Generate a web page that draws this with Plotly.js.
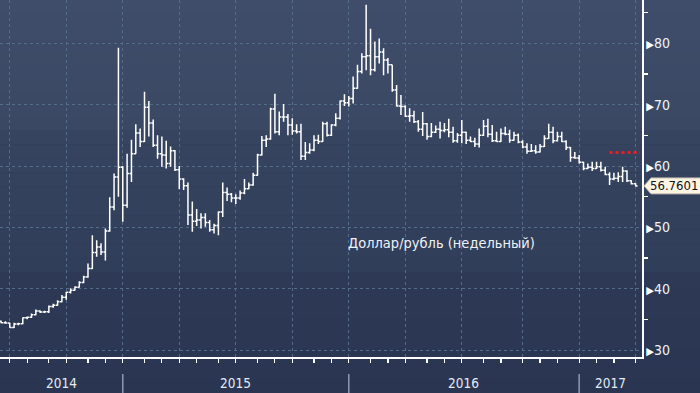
<!DOCTYPE html>
<html><head><meta charset="utf-8">
<script src="https://cdn.plot.ly/plotly-3.0.1.min.js"></script>
<style>html,body{margin:0;padding:0;background:#2c3854;overflow:hidden}</style>
</head><body><div id="chart" style="width:700px;height:393px"></div>
<script>
// Weekly bars (week ending Friday), USD/RUB
const weeks = [
 '2014-06-13','2014-06-20','2014-06-27','2014-07-04','2014-07-11','2014-07-18','2014-07-25','2014-08-01','2014-08-08','2014-08-15','2014-08-22','2014-08-29','2014-09-05','2014-09-12','2014-09-19','2014-09-26','2014-10-03','2014-10-10','2014-10-17','2014-10-24','2014-10-31','2014-11-07','2014-11-14','2014-11-21','2014-11-28','2014-12-05','2014-12-12','2014-12-19','2014-12-26',
 '2015-01-02','2015-01-09','2015-01-16','2015-01-23','2015-01-30','2015-02-06','2015-02-13','2015-02-20','2015-02-27','2015-03-06','2015-03-13','2015-03-20','2015-03-27','2015-04-03','2015-04-10','2015-04-17','2015-04-24','2015-05-01','2015-05-08','2015-05-15','2015-05-22','2015-05-29','2015-06-05','2015-06-12','2015-06-19','2015-06-26','2015-07-03','2015-07-10','2015-07-17','2015-07-24','2015-07-31','2015-08-07','2015-08-14','2015-08-21','2015-08-28','2015-09-04','2015-09-11','2015-09-18','2015-09-25','2015-10-02','2015-10-09','2015-10-16','2015-10-23','2015-10-30','2015-11-06','2015-11-13','2015-11-20','2015-11-27','2015-12-04','2015-12-11','2015-12-18','2015-12-25',
 '2016-01-01','2016-01-08','2016-01-15','2016-01-22','2016-01-29','2016-02-05','2016-02-12','2016-02-19','2016-02-26','2016-03-04','2016-03-11','2016-03-18','2016-03-25','2016-04-01','2016-04-08','2016-04-15','2016-04-22','2016-04-29','2016-05-06','2016-05-13','2016-05-20','2016-05-27','2016-06-03','2016-06-10','2016-06-17','2016-06-24','2016-07-01','2016-07-08','2016-07-15','2016-07-22','2016-07-29','2016-08-05','2016-08-12','2016-08-19','2016-08-26','2016-09-02','2016-09-09','2016-09-16','2016-09-23','2016-09-30','2016-10-07','2016-10-14','2016-10-21','2016-10-28','2016-11-04','2016-11-11','2016-11-18','2016-11-25','2016-12-02','2016-12-09','2016-12-16','2016-12-23','2016-12-30',
 '2017-01-06','2017-01-13','2017-01-20','2017-01-27','2017-02-03','2017-02-10','2017-02-17','2017-02-24','2017-03-03','2017-03-10','2017-03-17','2017-03-24','2017-03-31'
];
const opens = [
 34.70,34.45,34.40,33.65,34.25,34.30,35.25,35.35,35.75,36.35,36.20,36.25,37.10,37.30,37.85,38.60,39.40,39.75,40.25,41.00,41.90,43.30,45.90,46.80,46.00,49.40,53.30,58.20,59.80,
 53.60,58.80,62.00,65.40,64.00,69.60,67.00,63.40,62.00,61.80,60.40,62.50,59.40,57.90,56.80,52.00,51.00,51.20,51.60,50.80,49.60,50.30,52.50,55.70,55.40,54.80,54.80,55.60,56.30,56.90,58.50,61.80,64.20,64.40,69.30,65.60,68.00,68.00,66.70,65.70,65.60,61.60,62.20,62.60,64.20,64.00,66.90,65.00,66.70,67.80,70.60,70.30,
 71.00,72.70,75.40,77.80,78.00,75.70,77.80,78.60,77.30,76.50,72.40,69.80,69.70,68.10,68.20,67.20,66.00,66.90,64.80,65.50,66.00,65.80,65.90,65.50,64.10,65.00,65.50,64.20,64.00,63.60,65.00,66.50,65.20,64.10,64.00,65.30,65.20,64.20,65.00,63.90,63.10,62.40,62.50,62.30,63.20,64.50,65.50,64.10,64.80,64.00,63.00,61.40,61.30,
 60.60,59.60,59.80,59.60,59.90,59.30,58.60,57.90,58.00,58.30,59.20,57.60,57.10
];
const highs = [
 34.80,34.70,34.45,34.45,34.45,35.30,35.45,35.95,36.60,36.45,36.40,37.25,37.55,38.10,38.95,39.50,40.05,40.40,41.20,42.10,44.10,48.70,47.90,47.40,49.80,54.90,58.80,79.30,60.00,
 62.00,64.30,66.80,66.10,72.10,70.60,67.60,65.00,64.80,64.10,63.20,62.60,60.00,58.00,57.30,54.20,53.00,52.30,52.30,51.20,50.60,52.60,57.30,56.50,55.60,55.40,56.00,57.90,57.30,58.90,62.00,64.90,65.00,69.50,71.80,68.90,70.10,68.50,67.80,66.80,66.90,63.90,63.70,65.00,65.10,67.20,67.20,66.80,68.60,70.70,71.70,71.40,
 74.60,76.50,78.40,86.30,82.40,80.30,80.80,79.20,77.60,76.50,73.20,71.60,69.90,69.40,69.00,67.50,68.80,67.00,67.00,66.60,67.20,67.00,67.70,66.40,65.40,67.50,65.60,64.80,64.60,66.10,67.50,67.70,66.70,65.60,66.10,66.40,65.90,65.60,65.30,64.20,63.70,63.60,63.40,63.60,65.00,66.90,66.40,65.60,65.60,64.20,63.10,62.30,61.80,
 60.70,60.40,60.70,60.70,60.70,59.90,59.00,58.90,59.00,59.90,59.30,57.70,57.20
];
const lows = [
 34.35,34.30,33.62,33.60,34.05,34.20,35.00,35.20,35.65,36.05,36.05,36.05,36.90,37.20,37.80,38.20,39.20,39.70,40.20,40.90,41.80,43.20,45.20,45.50,44.60,49.30,52.80,55.00,50.90,
 53.20,57.40,62.00,63.10,63.90,64.80,63.10,61.20,59.90,59.60,59.90,59.20,56.20,56.10,50.40,49.30,50.20,49.80,50.10,49.30,49.00,48.70,51.70,54.30,54.10,53.80,54.50,55.40,56.20,56.80,58.40,61.70,63.10,64.30,65.30,65.00,67.20,65.00,65.10,65.30,61.00,61.00,62.00,62.40,63.60,63.90,64.80,64.90,66.50,67.60,69.80,69.70,
 70.20,72.60,75.10,75.60,74.80,75.40,76.70,74.80,75.10,72.10,69.70,68.30,68.00,67.20,67.00,65.60,64.90,64.30,64.70,65.40,64.50,65.50,64.70,63.80,63.80,63.70,63.60,63.90,63.10,63.00,64.90,64.70,63.90,63.90,63.90,65.00,63.80,64.10,63.70,62.90,62.00,62.30,62.00,62.20,63.10,64.40,63.70,64.00,63.90,62.60,60.70,61.20,60.40,
 59.30,59.50,59.20,59.50,59.10,58.50,56.90,57.70,57.40,57.40,57.40,57.00,56.70
];
const closes = [
 34.45,34.40,33.65,34.25,34.30,35.25,35.35,35.75,36.35,36.20,36.25,37.10,37.30,37.85,38.60,39.40,39.75,40.25,41.00,41.90,43.30,45.90,46.80,46.00,49.40,53.30,58.20,59.80,53.60,
 58.80,62.00,65.40,64.00,69.60,67.00,63.40,62.00,61.80,60.40,62.50,59.40,57.90,56.80,52.00,51.00,51.20,51.60,50.80,49.60,50.30,52.50,55.70,55.40,54.80,54.80,55.60,56.30,56.90,58.50,61.80,64.20,64.40,69.30,65.60,68.00,68.00,66.70,65.70,65.60,61.60,62.20,62.60,64.20,64.00,66.90,65.00,66.70,67.80,70.60,70.30,71.00,
 72.70,75.40,77.80,78.00,75.70,77.80,78.60,77.30,76.50,72.40,69.80,69.70,68.10,68.20,67.20,66.00,66.90,64.80,65.50,66.00,65.80,65.90,65.50,64.10,65.00,65.50,64.20,64.00,63.60,65.00,66.50,65.20,64.10,64.00,65.30,65.20,64.20,65.00,63.90,63.10,62.40,62.50,62.30,63.20,64.50,65.50,64.10,64.80,64.00,63.00,61.40,61.30,60.60,
 59.60,59.80,59.60,59.90,59.30,58.60,57.90,58.00,58.30,59.20,57.60,57.10,56.7601
];
const lastPriceLabel = '56.7601';
const refLineDates = ['2017-02-17','2017-04-07'];
const refLineLevel = 62.2;
const quarterTicks = ['2014-06-27','2014-09-26','2014-12-26','2015-03-27','2015-06-26','2015-09-25','2015-12-25','2016-03-25','2016-06-24','2016-09-30','2016-12-30','2017-03-31'];
const monthTicks = ['2014-06-27','2014-07-25','2014-08-29','2014-09-26','2014-10-31','2014-11-28','2014-12-26','2015-01-30','2015-02-27','2015-03-27','2015-04-24','2015-05-29','2015-06-26','2015-07-31','2015-08-28','2015-09-25','2015-10-30','2015-11-27','2015-12-25','2016-01-29','2016-02-26','2016-03-25','2016-04-29','2016-05-27','2016-06-24','2016-07-29','2016-08-26','2016-09-30','2016-10-28','2016-11-25','2016-12-30','2017-01-27','2017-02-24','2017-03-31'];
const yearLabels = ['2014','2015','2016','2017'];
const yearBreaks = ['2014-12-26','2015-12-25','2016-12-30'];
const yTickVals = [30,40,50,60,70,80];
const yMinorVals = [35,45,55,65,75,85];
const chartTitle = 'Доллар/рубль (недельный)';

const xRange = ['2014-06-11 07:00','2017-04-10 05:00'];
const yRange = [28.86, 87.07];
const FONT = '"DejaVu Sans Condensed","DejaVu Sans",sans-serif';

const t0 = new Date(xRange[0].replace(' ','T')+'Z').getTime();
const t1 = new Date(xRange[1].replace(' ','T')+'Z').getTime();
const toPaper = d => (new Date(d+'T00:00:00Z').getTime() - t0)/(t1 - t0);

// background bands
const H = 357, B = 36;
const shapes = [];
function hex2rgb(h){return [1,3,5].map(i=>parseInt(h.substr(i,2),16));}
function band(yTop, yBot, cTop, cBot, n){
  const a = hex2rgb(cTop), b = hex2rgb(cBot);
  for(let i=0;i<n;i++){
    const f = n===1?0:i/(n-1);
    const c = a.map((v,k)=>Math.round(v+(b[k]-v)*f));
    const ya = yTop + (yBot-yTop)*i/n, yb = yTop + (yBot-yTop)*(i+1)/n;
    shapes.push({type:'rect',xref:'paper',yref:'paper',x0:-0.01,x1:1.2,
      y0:1-ya/H, y1:1-yb/H, fillcolor:`rgb(${c.join(',')})`, line:{width:0}, layer:'below'});
  }
}
band(0,130,'#3f4d6a','#3a4864',10);
band(130,272,'#37445f','#313e5a',10);
band(272,H+B+2,'#2d3955','#2a3551',8);

// year separators
yearBreaks.forEach(d=>{
  const p = toPaper(d);
  shapes.push({type:'line',xref:'paper',yref:'paper',x0:p,x1:p,y0:-17/H,y1:-(B+2)/H,
    line:{color:'#8d9bb2',width:1.5}});
});
// price tag
shapes.push({type:'path',xref:'paper',xsizemode:'pixel',xanchor:1,
  yref:'y',ysizemode:'pixel',yanchor:closes[closes.length-1],
  path:'M 2,0 L 9,8 L 62,8 L 62,-8 L 9,-8 Z',
  fillcolor:'#fdf4e4',line:{color:'#b9b2a6',width:1}});

const annotations = [];
const bounds = [0].concat(yearBreaks.map(toPaper)).concat([1]);
yearLabels.forEach((t,i)=>annotations.push({
  xref:'paper',yref:'paper',x:(bounds[i]+bounds[i+1])/2,xanchor:'center',y:-26/H,yanchor:'middle',
  text:t,showarrow:false,font:{family:FONT,size:13.5,color:'#e3ebf7'}
}));
annotations.push({xref:'paper',yref:'paper',x:441/642,xanchor:'center',y:1-243/H,yanchor:'middle',text:chartTitle,
  showarrow:false,font:{family:FONT,size:14.5,color:'#eef2f8'}});
annotations.push({xref:'paper',yref:'y',x:1,xanchor:'left',xshift:6,y:closes[closes.length-1],yanchor:'middle',
  text:lastPriceLabel,showarrow:false,font:{family:FONT,size:13,color:'#111111'}});

const traces = [
  {type:'ohlc',x:weeks,open:opens,high:highs,low:lows,close:closes,
   increasing:{line:{color:'#ffffff',width:1.5}},decreasing:{line:{color:'#ffffff',width:1.5}},
   tickwidth:0.45,hoverinfo:'skip',showlegend:false},
  {type:'scatter',mode:'lines',x:refLineDates,y:[refLineLevel,refLineLevel],
   line:{color:'#ff1a1a',width:2.5,dash:'dot'},hoverinfo:'skip',showlegend:false}
];

const layout = {
  width:700,height:393,margin:{l:0,r:58,t:0,b:36},
  paper_bgcolor:'#2c3854',plot_bgcolor:'rgba(0,0,0,0)',
  showlegend:false,
  xaxis:{type:'date',range:xRange,rangeslider:{visible:false},
    tickmode:'array',tickvals:quarterTicks,showticklabels:false,
    showgrid:true,gridcolor:'#526c8a',griddash:'3px,3px',gridwidth:1,
    ticks:'outside',ticklen:4,tickcolor:'#ffffff',tickwidth:1.2,
    minor:{tickmode:'array',tickvals:monthTicks,ticks:'outside',ticklen:4,tickcolor:'#ffffff',tickwidth:1.2,showgrid:false},
    showline:true,linecolor:'#ffffff',linewidth:2,zeroline:false,fixedrange:true},
  yaxis:{side:'right',range:yRange,tickmode:'array',tickvals:yTickVals,
    ticktext:yTickVals.map(v=>'<span style="color:#ffffff;font-size:11px">▶</span>'+v),
    showgrid:true,gridcolor:'#526c8a',griddash:'3px,3px',gridwidth:1,
    ticks:'',ticklabelstandoff:0,tickfont:{family:FONT,size:14,color:'#eef3fa'},
    minor:{tickmode:'array',tickvals:yMinorVals,ticks:'outside',ticklen:4,tickcolor:'#ffffff',tickwidth:1.2,showgrid:false},
    showline:true,linecolor:'#ffffff',linewidth:1.5,zeroline:false,fixedrange:true},
  shapes:shapes,annotations:annotations
};
Plotly.newPlot('chart',traces,layout,{staticPlot:true,displayModeBar:false});
</script></body></html>
